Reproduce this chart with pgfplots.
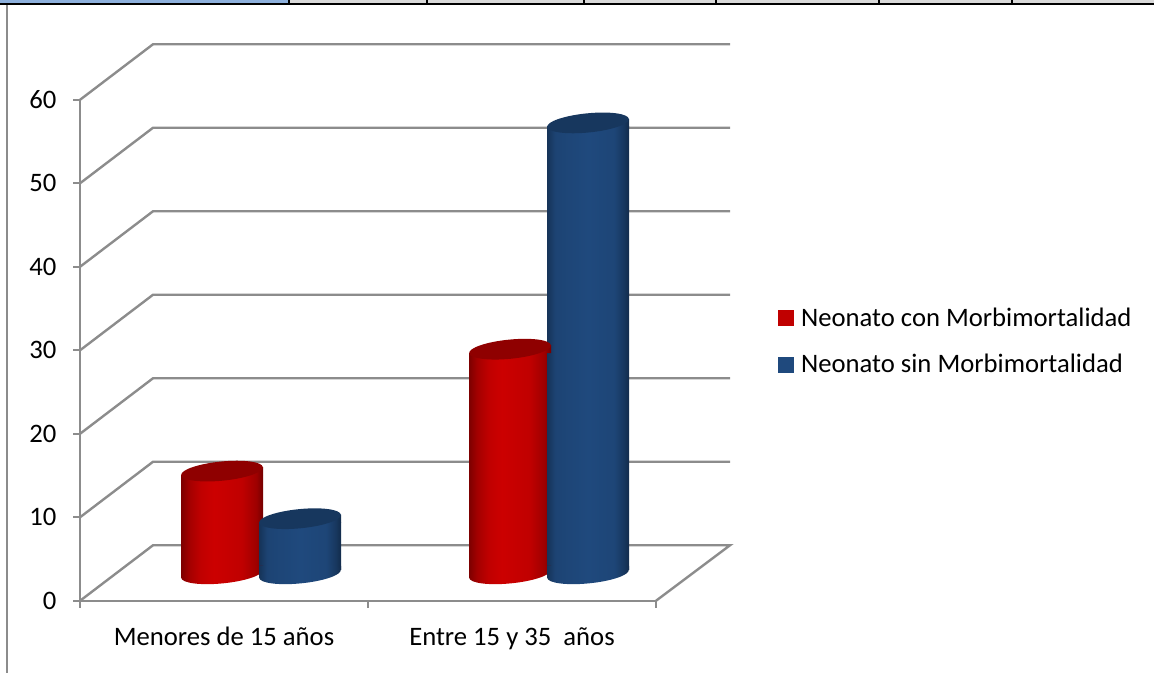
\documentclass[border=0pt]{standalone}
\usepackage{fontspec}
\setmainfont{Carlito}
\usepackage{pgfplots}
\pgfplotsset{compat=1.18}
\usepackage{pgfplotstable}

\definecolor{wallgray}{HTML}{8C8C8C}
\definecolor{conred}{HTML}{C00000}
\definecolor{sinblue}{HTML}{1F497D}
\definecolor{concap}{HTML}{8F0000}
\definecolor{sincap}{HTML}{17375E}
\definecolor{conlit}{HTML}{CC0000}

% Cylinder sides, lit from just left of centre
\pgfdeclarehorizontalshading{redcyl}{100bp}{
  color(0bp)=(conred!60!black); color(25bp)=(conred!65!black);
  color(30bp)=(conred!85!black); color(37bp)=(conred);
  color(45bp)=(conlit); color(62bp)=(conred);
  color(71bp)=(conred!82!black); color(75bp)=(conred!60!black);
  color(100bp)=(conred!60!black)}
\pgfdeclarehorizontalshading{bluecyl}{100bp}{
  color(0bp)=(sinblue!70!black); color(25bp)=(sinblue!70!black);
  color(30bp)=(sinblue!92!black); color(36bp)=(sinblue!95!black);
  color(50bp)=(sinblue); color(66bp)=(sinblue!95!black);
  color(72bp)=(sinblue!75!black); color(75bp)=(sinblue!60!black);
  color(100bp)=(sinblue!60!black)}

% Rounded foot and top of a cylinder, drawn as plot marks
\newcommand{\cylfoot}[1]{%
  \path[draw=none,shading=#1,x=0.75pt,y=0.75pt] (-41,-4) -- (41,4) -- (41,8) -- (-41,8) -- cycle;
  \path[draw=none,shading=#1,x=0.75pt,y=0.75pt] (0,0) ellipse [x radius=41,y radius=9.6,rotate=5.6];}
\newcommand{\cylcap}[2]{%
  \path[draw=none,shading=#1,x=0.75pt,y=0.75pt] (-41,-4) -- (41,4) -- (41,-4) -- cycle;
  \path[draw=none,fill=#2,x=0.75pt,y=0.75pt] (0,0) ellipse [x radius=41,y radius=9.6,rotate=5.6];}
\pgfdeclareplotmark{redfoot}{\cylfoot{redcyl}}
\pgfdeclareplotmark{bluefoot}{\cylfoot{bluecyl}}
\pgfdeclareplotmark{redcap}{\cylcap{redcyl}{concap}}
\pgfdeclareplotmark{bluecap}{\cylcap{bluecyl}{sincap}}

\pgfplotstableread{
x    con   sin
0.5  12.3  6.6
1.5  26.9  54
}\neonatos

\pgfplotsset{
  redbody/.style={forget plot,on layer=pre main,ybar,bar width=61.5pt,bar shift=0pt,draw=none,
    shading=redcyl,xshift=-1.5pt,yshift=23.25pt},
  bluebody/.style={forget plot,on layer=main,ybar,bar width=61.5pt,bar shift=0pt,draw=none,
    shading=bluecyl,xshift=57pt,yshift=23.25pt},
  wall/.style={forget plot,on layer=axis grid,wallgray,line width=1.8pt},
}

\begin{document}
\begin{tikzpicture}
  % Page frame: strip of table cells above the chart, rule at the left
  \path (0,0) rectangle (865.5pt,-504.75pt);
  \fill[gray!30] (216pt,0) rectangle (865.5pt,-2.4pt);
  \definecolor{cellblue}{HTML}{8DB0DC}
  \fill[cellblue] (0,0) rectangle (216.5pt,-2.4pt);
  \fill[black] (0,-2.4pt) rectangle (865.5pt,-3.9pt);
  \foreach \s in {216.75,320.25,438,537,659.25,759}
    \fill[black] (\s pt-0.7pt,0) rectangle (\s pt+0.7pt,-3pt);
  \fill[wallgray] (4.5pt,-3.9pt) rectangle (6pt,-504.75pt);

  \begin{axis}[
    set layers=standard,
    at={(60pt,-450.6pt)}, anchor=south west,
    scale only axis, width=432pt, height=375.75pt,
    xmin=0, xmax=2, ymin=0, ymax=60,
    clip=false,
    axis x line*=bottom, axis y line*=left,
    axis line style={wallgray,line width=1.8pt,-},
    tick style={wallgray,line width=1.4pt},
    tick align=outside, major tick length=5.25pt,
    xtick={0,1,2}, xticklabels={},
    extra x ticks={0.5,1.5},
    extra x tick labels={Menores de 15 años,Entre 15 y 35\ \ años},
    extra x tick style={major tick length=0pt,
      xticklabel style={yshift=-16.4pt}},
    ytick={0,10,...,60},
    /pgf/number format/assume math mode=true,
    y tick label style={xshift=-9pt},
    tick label style={font=\fontsize{20}{22}\selectfont},
    legend style={at={(axis description cs:1.212,0.591)},anchor=north west,
      draw=none,fill=none,inner sep=0pt,row sep=15.5pt,
      font=\fontsize{20}{22}\selectfont},
    legend cell align=left,
  ]
    % Back wall lines, one per tick, carried round the left side wall
    \addplot[wall] coordinates {(2,0) (2.257,6.65) (0.2535,6.65) (0,0)};
    \addplot[wall] coordinates {(0,10) (0.2535,16.65) (2.257,16.65)};
    \addplot[wall] coordinates {(0,20) (0.2535,26.65) (2.257,26.65)};
    \addplot[wall] coordinates {(0,30) (0.2535,36.65) (2.257,36.65)};
    \addplot[wall] coordinates {(0,40) (0.2535,46.65) (2.257,46.65)};
    \addplot[wall] coordinates {(0,50) (0.2535,56.65) (2.257,56.65)};
    \addplot[wall] coordinates {(0,60) (0.2535,66.65) (2.257,66.65)};

    % Neonato con Morbimortalidad, on a layer below the blue series
    \addplot[forget plot,on layer=pre main,only marks,mark=redfoot,xshift=-1.5pt,yshift=20.25pt]
      table[x=x,y expr=0] {\neonatos};
    \addplot[redbody,restrict x to domain=0:1] table[x=x,y expr=\thisrow{con}-0.96] {\neonatos};
    \addplot[redbody,restrict x to domain=1:2] table[x=x,y expr=\thisrow{con}-0.96] {\neonatos};
    \addplot[forget plot,on layer=pre main,only marks,mark=redcap,xshift=-1.5pt,yshift=20.25pt]
      table[x=x,y=con] {\neonatos};

    % Neonato sin Morbimortalidad
    \addplot[forget plot,on layer=main,only marks,mark=bluefoot,xshift=57pt,yshift=20.25pt]
      table[x=x,y expr=0] {\neonatos};
    \addplot[bluebody,restrict x to domain=0:1] table[x=x,y expr=\thisrow{sin}-0.96] {\neonatos};
    \addplot[bluebody,restrict x to domain=1:2] table[x=x,y expr=\thisrow{sin}-0.96] {\neonatos};
    \addplot[forget plot,on layer=main,only marks,mark=bluecap,xshift=57pt,yshift=20.25pt]
      table[x=x,y=sin] {\neonatos};

    % Legend keys
    \addlegendimage{legend image code/.code={\fill[conred] (0pt,-5.6pt) rectangle (11.25pt,5.6pt);}}
    \addlegendentry{\hspace{3.4pt}Neonato con Morbimortalidad}
    \addlegendimage{legend image code/.code={\fill[sinblue] (0pt,-5.6pt) rectangle (11.25pt,5.6pt);}}
    \addlegendentry{\hspace{3.4pt}Neonato sin Morbimortalidad}
  \end{axis}
\end{tikzpicture}
\end{document}
